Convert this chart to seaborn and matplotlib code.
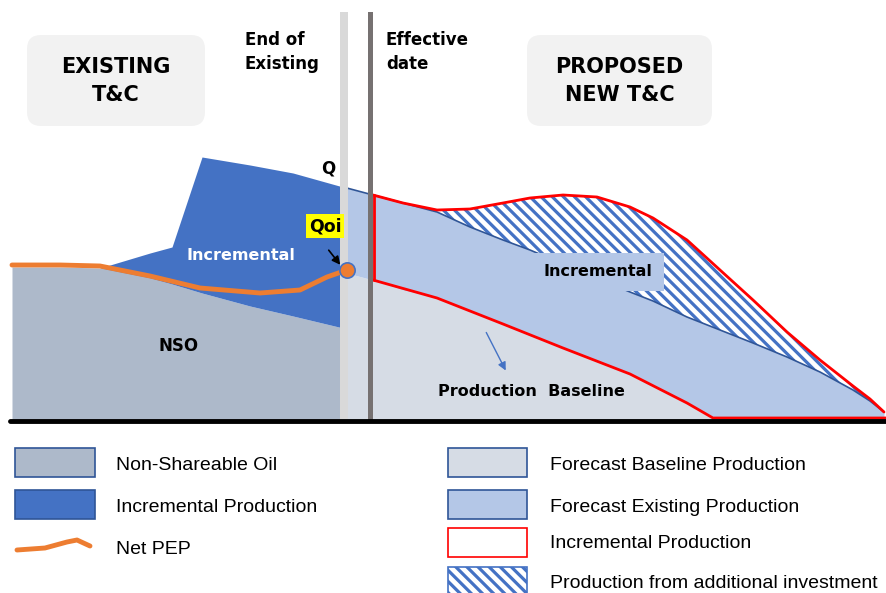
import numpy as np
import matplotlib
matplotlib.use("Agg")
import matplotlib.pyplot as plt
import seaborn as sns
from matplotlib.patches import FancyBboxPatch, Rectangle

# Schematic data: x positions and production level (height above the time axis)
# Left side (existing T&C)
x_left = np.array([12, 60, 100, 150, 172, 202, 250, 293, 343])
nso_top = np.array([153, 153, 152, 142, 136, 127, 114, 104, 92])
incr_top = np.array([np.nan, np.nan, 152, 167, 173, 263, 255, 247, 233])

x_pep = np.array([12, 60, 100, 150, 200, 260, 300, 327, 347])
pep = np.array([155, 155, 154, 144, 132, 127, 130, 143, 150])

# Right side (proposed new T&C)
x_right = np.array([343, 373, 403, 437, 470, 503, 530, 563, 597, 630,
                    653, 687, 720, 753, 787, 820, 853, 870, 884])
existing_top = np.array([233, 225, 217, 208, 193, 180, 170, 156, 142, 128,
                         119, 103, 90, 77, 63, 48, 30, 19, 8])
new_top = np.array([np.nan, 225, 217, 210, 211, 217, 222, 225, 223, 213,
                    202, 180, 150, 120, 88, 60, 34, 21, 8])
baseline_top = np.array([148, 140, 130, 122, 109, 96, 84, 72, 59, 46,
                         34, 17, 0, 0, 0, 0, 0, 0, 0])

x_base_line = np.array([373, 437, 503, 563, 630, 687, 713, 886])
base_line = np.array([140, 122, 96, 72, 46, 17, 2, 2])

# Legend entries
legend_left = ["Non-Shareable Oil", "Incremental Production", "Net PEP"]
legend_right = ["Forecast Baseline Production", "Forecast Existing Production",
                "Incremental Production", "Production from additional investment"]

COL_NSO = "#adb9ca"
COL_INC = "#4472c4"
COL_BASE = "#d6dce5"
COL_EXIST = "#b4c7e7"
COL_RED = "#ff0000"
COL_PEP = "#ed7d31"
EDGE = "#2f5597"

sns.set_theme(style="white")
plt.rcParams["hatch.linewidth"] = 2.3
plt.rcParams["hatch.color"] = COL_INC
plt.rcParams["text.color"] = "black"

fig = plt.figure(figsize=(8.86, 5.93), dpi=100)
ax = fig.add_axes([0, 0, 1, 1])
ax.set_xlim(0, 886)
ax.set_ylim(420 - 593, 420)
ax.axis("off")

# Areas
ax.fill_between(x_left, 0, nso_top, color=COL_NSO, lw=0, zorder=1)
ax.fill_between(x_left, nso_top, incr_top, where=~np.isnan(incr_top),
                color=COL_INC, lw=0, zorder=1)
ax.fill_between(x_right, 0, baseline_top, color=COL_BASE, lw=0, zorder=1)
ax.fill_between(x_right, baseline_top, existing_top, color=COL_EXIST, lw=0, zorder=1)
ax.fill_between(x_right, existing_top, new_top, where=new_top > existing_top + 0.5,
                interpolate=True, facecolor="white", edgecolor=COL_INC,
                hatch="\\\\\\", lw=0, zorder=1)
ax.plot(x_right, existing_top, color=EDGE, lw=1.2, zorder=2)

# Red outline of incremental production
sns.lineplot(x=x_right[1:], y=new_top[1:], color=COL_RED, lw=2, sort=False,
             estimator=None, ax=ax, zorder=3)
sns.lineplot(x=x_base_line, y=base_line, color=COL_RED, lw=2, sort=False,
             estimator=None, ax=ax, zorder=3)
ax.plot([x_right[1] + 1.5, x_right[1] + 1.5], [base_line[0], new_top[1]],
        color=COL_RED, lw=2, zorder=3)

# Time axis and period separators
ax.plot([10, 886], [-1, -1], color="black", lw=3.5, zorder=5)
ax.add_patch(Rectangle((340, -2), 8, 410, color="#d9d9d9", lw=0, zorder=4))
ax.add_patch(Rectangle((368.5, -2), 5, 410, color="#767171", lw=0, zorder=4))

# Net PEP
sns.lineplot(x=x_pep, y=pep, color=COL_PEP, lw=3.5, sort=False,
             estimator=None, ax=ax, zorder=6)
ax.plot([x_pep[-1]], [pep[-1]], marker="o", ms=11, mfc=COL_PEP, mec=COL_INC,
        mew=1.2, zorder=7)
ax.annotate("", xy=(342, 153), xytext=(327, 172),
            arrowprops=dict(arrowstyle="-|>", color="black", lw=1.2), zorder=7)

bold = dict(fontweight="bold", family="DejaVu Sans")
ax.text(328, 252, "Q", fontsize=12, ha="center", va="center", zorder=8, **bold)
ax.text(325, 194, "Qoi", fontsize=12.5, ha="center", va="center", zorder=8,
        bbox=dict(boxstyle="square,pad=0.18", fc="#ffff00", ec="none"), **bold)
ax.text(241, 165, "Incremental", fontsize=11.5, color="white", ha="center",
        va="center", zorder=8, **bold)
ax.text(179, 74, "NSO", fontsize=12, ha="center", va="center", zorder=8, **bold)
ax.text(598, 148, "Incremental", fontsize=11.5, ha="center", va="center", zorder=8,
        bbox=dict(boxstyle="square,pad=0.75", fc=COL_EXIST, ec="none"), **bold)
ax.text(531, 29, "Production  Baseline", fontsize=11.5, ha="center", va="center",
        zorder=8, **bold)
ax.annotate("", xy=(507, 47), xytext=(485, 90),
            arrowprops=dict(arrowstyle="-|>", color=COL_INC, lw=1), zorder=8)

# Header boxes
for x0, x1, label in [(27, 205, "EXISTING\nT&C"), (527, 712, "PROPOSED\nNEW T&C")]:
    ax.add_patch(FancyBboxPatch((x0, 294), x1 - x0, 91,
                                boxstyle="round,pad=0,rounding_size=14",
                                fc="#f2f2f2", ec="none", zorder=2))
    ax.text((x0 + x1) / 2, 339, label, fontsize=15, ha="center", va="center",
            linespacing=1.5, zorder=8, **bold)
ax.text(245, 368, "End of\nExisting", fontsize=12, ha="left", va="center",
        linespacing=1.45, zorder=8, **bold)
ax.text(386, 368, "Effective\ndate", fontsize=12, ha="left", va="center",
        linespacing=1.45, zorder=8, **bold)

# Legend (drawn by hand, two columns)
leg_font = dict(fontsize=14, family=["Liberation Sans", "DejaVu Sans"])
for col, label, yp, ty in [(COL_NSO, legend_left[0], 462, 466),
                           (COL_INC, legend_left[1], 504, 508)]:
    ax.add_patch(Rectangle((15, 420 - yp - 14.5), 80, 29, fc=col, ec=EDGE, lw=1.2))
    ax.text(116, 420 - ty, label, va="center", ha="left", **leg_font)
x_leg_pep = np.array([17, 45, 67, 77, 90])
y_leg_pep = np.array([-130, -128, -122, -120, -126])
ax.plot(x_leg_pep, y_leg_pep, color=COL_PEP, lw=3.5)
ax.text(116, 420 - 549, legend_left[2], va="center", ha="left", **leg_font)

right_items = [(COL_BASE, EDGE, None, 462, 466),
               (COL_EXIST, EDGE, None, 504, 507),
               ("white", COL_RED, None, 542, 544),
               ("white", COL_INC, "\\\\\\", 581, 583)]
for (fc, ec, hatch, yp, ty), label in zip(right_items, legend_right):
    ax.add_patch(Rectangle((448, 420 - yp - 14.5), 79, 29, fc=fc, ec=ec, lw=1.2,
                           hatch=hatch))
    ax.text(550, 420 - ty, label, va="center", ha="left", **leg_font)

fig.savefig("out.png", dpi=100)
